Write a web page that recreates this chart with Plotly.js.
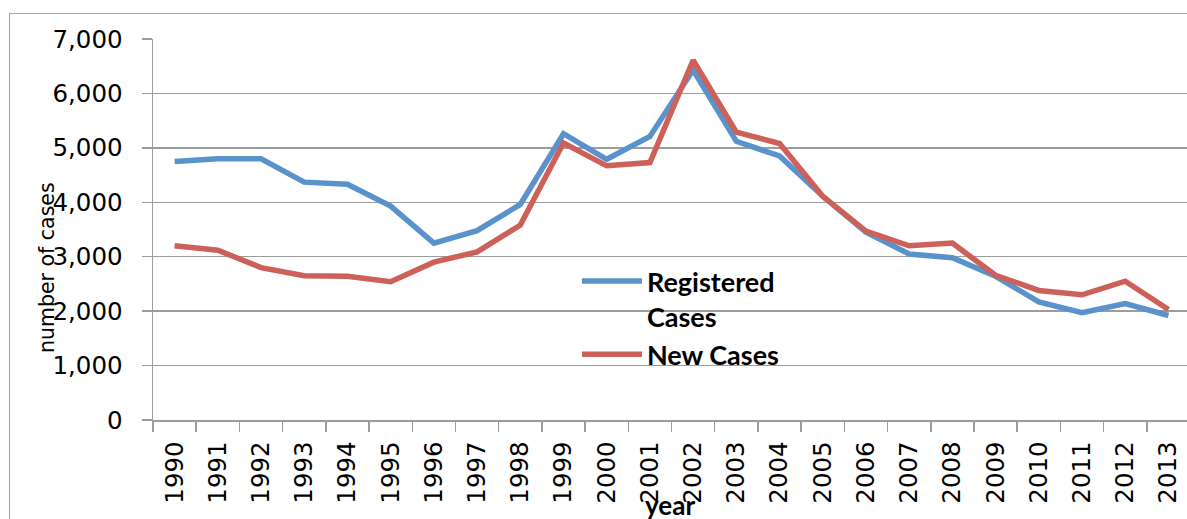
<!DOCTYPE html>
<html>
<head>
<meta charset="utf-8">
<script src="https://cdn.plot.ly/plotly-3.0.1.min.js"></script>
<style>
html,body{margin:0;padding:0;background:#fff;overflow:hidden;}
#frame{position:absolute;left:9px;top:13px;width:1200px;height:540px;border:1.5px solid #a3a3a3;box-sizing:border-box;}
#chart{position:absolute;left:0;top:0;width:1187px;height:519px;}
</style>
</head>
<body>
<div id="frame"></div>
<div id="chart"></div>
<script>
const years = ["1990","1991","1992","1993","1994","1995","1996","1997","1998","1999","2000","2001","2002","2003","2004","2005","2006","2007","2008","2009","2010","2011","2012","2013"];
const registeredCases = [4750,4800,4800,4370,4330,3930,3250,3480,3960,5260,4790,5210,6430,5120,4850,4110,3450,3050,2980,2640,2170,1970,2140,1920];
const newCases = [3200,3120,2800,2650,2640,2540,2900,3090,3580,5090,4670,4730,6610,5290,5080,4110,3470,3200,3250,2660,2380,2300,2550,2030];
const yTickVals = [0,1000,2000,3000,4000,5000,6000,7000];

const traces = [
  {x: years, y: registeredCases, type: 'scatter', mode: 'lines', name: 'Registered<br>Cases',
   line: {color: '#5A93CB', width: 5.5}},
  {x: years, y: newCases, type: 'scatter', mode: 'lines', name: 'New Cases',
   line: {color: '#CD615A', width: 5.5}}
];

const layout = {
  width: 1187, height: 519,
  margin: {l: 153, r: 0, t: 39, b: 99},
  paper_bgcolor: 'rgba(0,0,0,0)',
  plot_bgcolor: 'rgba(0,0,0,0)',
  showlegend: true,
  legend: {x: 0.41, y: 0.428, xanchor: 'left', yanchor: 'top', bgcolor: 'rgba(0,0,0,0)',
           font: {family: 'Lato', size: 27, color: '#000', weight: 'bold'},
           itemwidth: 60, valign: 'top', tracegroupgap: 0},
  xaxis: {type: 'category', range: [-0.5, 23.43], tickson: 'boundaries',
          ticks: 'outside', ticklen: 10, tickcolor: '#9c9c9c', tickwidth: 1.5,
          tickangle: -90, tickfont: {family: 'DejaVu Sans', size: 24.5, color: '#000'},
          showline: true, linecolor: '#9c9c9c', linewidth: 1.5, showgrid: false,
          ticklabelstandoff: 10, fixedrange: true},
  yaxis: {range: [0, 7000], tickvals: yTickVals, tickformat: ',',
          ticks: 'outside', ticklen: 10, tickcolor: '#9c9c9c', tickwidth: 1.5,
          tickfont: {family: 'DejaVu Sans', size: 24.5, color: '#000'},
          showline: true, linecolor: '#9c9c9c', linewidth: 1.5,
          showgrid: true, gridcolor: '#9c9c9c', gridwidth: 1.5, zeroline: false,
          ticklabelstandoff: 14, fixedrange: true},
  annotations: [
    {text: 'number of cases', textangle: -90, xref: 'paper', yref: 'paper',
     x: -0.1025, y: 0.399, xanchor: 'center', yanchor: 'middle', showarrow: false,
     font: {family: 'DejaVu Sans', size: 20.5, color: '#000'}},
    {text: '<b>year</b>', xref: 'paper', yref: 'paper', x: 0.5, y: -0.222,
     xanchor: 'center', yanchor: 'middle', showarrow: false,
     font: {family: 'Lato', size: 26, color: '#000'}}
  ]
};

Plotly.newPlot('chart', traces, layout, {displayModeBar: false, staticPlot: true});
</script>
</body>
</html>
